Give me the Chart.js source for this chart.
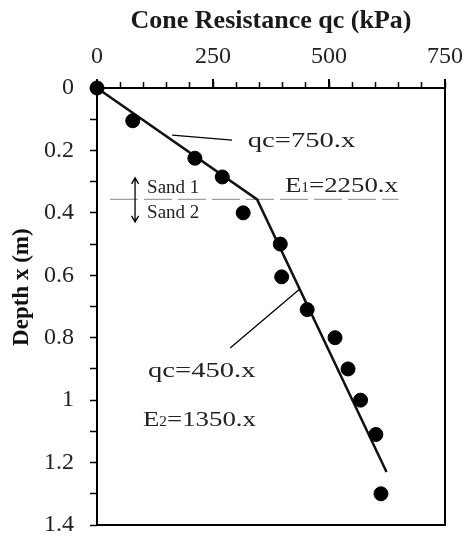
<!DOCTYPE html>
<html lang="en">
<head>
<meta charset="UTF-8">
<title>Cone Resistance</title>
<script src="https://cdn.jsdelivr.net/npm/chart.js"></script>
<style>
    body { margin: 0; background: #fff; }
    #wrap { width: 465px; height: 537px; }
</style>
</head>
<body>
<div id="wrap"><canvas id="cpt"></canvas></div>
<script>
    // measured cone resistance (kPa) at depth (m)
    var depth = [0, 0.105, 0.225, 0.285, 0.40, 0.50, 0.605, 0.71, 0.80, 0.90, 1.00, 1.11, 1.30];
    var qc = [0, 77, 211, 270, 315, 395, 398, 453, 513, 541, 568, 601, 612];
    // bilinear fit
    var fitDepth = [0, 0.357, 1.23];
    var fitQc = [0, 345, 624];
    var qcTicks = [0, 250, 500, 750];
    var depthTicks = [0, 0.2, 0.4, 0.6, 0.8, 1, 1.2, 1.4];
    var layerDepth = 0.357;

    var serif = "'Liberation Serif', 'Times New Roman', serif";

    function drawText(c, s, x, y, size, sx, weight) {
        c.save();
        c.translate(x, y);
        c.scale(sx, 1);
        c.font = (weight || 'normal') + ' ' + size + 'px ' + serif;
        c.fillText(s, 0, 0);
        var w = c.measureText(s).width * sx;
        c.restore();
        return w;
    }

    var notes = {
        id: 'notes',
        beforeDatasetsDraw(chart) {
            var c = chart.ctx, xs = chart.scales.x, ys = chart.scales.y;
            c.save();
            c.strokeStyle = '#a0a0a0';
            c.lineWidth = 1.2;
            c.setLineDash([28, 6]);
            c.beginPath();
            c.moveTo(xs.getPixelForValue(28), ys.getPixelForValue(layerDepth));
            c.lineTo(xs.getPixelForValue(650), ys.getPixelForValue(layerDepth));
            c.stroke();
            c.restore();
        },
        afterDatasetsDraw(chart) {
            var c = chart.ctx, xs = chart.scales.x, ys = chart.scales.y, a = chart.chartArea;
            var X = v => xs.getPixelForValue(v), Y = v => ys.getPixelForValue(v);
            c.save();
            c.strokeStyle = '#000';
            c.lineWidth = 2;
            c.strokeRect(a.left, a.top, a.right - a.left, a.bottom - a.top);

            // longer marks at labelled qc ticks
            c.beginPath();
            qcTicks.forEach(t => { c.moveTo(X(t), a.top); c.lineTo(X(t), a.top - 9); });
            c.stroke();

            // leader lines
            c.lineWidth = 1.3;
            c.beginPath();
            c.moveTo(X(162), Y(0.151)); c.lineTo(X(291), Y(0.167));
            c.moveTo(X(287), Y(0.833)); c.lineTo(X(437), Y(0.644));
            c.stroke();

            // double arrow between layers
            var ax = X(82), y1 = Y(0.288), y2 = Y(0.429);
            c.lineWidth = 1.3;
            c.beginPath();
            c.moveTo(ax, y1); c.lineTo(ax, y2);
            c.moveTo(ax - 3.5, y1 + 6); c.lineTo(ax, y1); c.lineTo(ax + 3.5, y1 + 6);
            c.moveTo(ax - 3.5, y2 - 6); c.lineTo(ax, y2); c.lineTo(ax + 3.5, y2 - 6);
            c.stroke();

            c.fillStyle = '#222';
            c.textBaseline = 'alphabetic';
            c.textAlign = 'left';
            drawText(c, 'Sand 1', X(108), Y(0.335), 19, 1);
            drawText(c, 'Sand 2', X(108), Y(0.4165), 19, 1);

            drawText(c, 'qc=750.x', X(325), Y(0.189), 22, 1.3);
            var x0 = X(405), yb = Y(0.333);
            x0 += drawText(c, 'E', x0, yb, 22, 1.22);
            x0 += drawText(c, '1', x0, yb, 14, 1.1);
            drawText(c, '=2250.x', x0, yb, 22, 1.22);

            drawText(c, 'qc=450.x', X(110), Y(0.926), 22, 1.3);
            x0 = X(99); yb = Y(1.083);
            x0 += drawText(c, 'E', x0, yb, 22, 1.22);
            x0 += drawText(c, '2', x0, yb, 14, 1.1);
            drawText(c, '=1350.x', x0, yb, 22, 1.22);

            // y axis title
            c.fillStyle = '#111';
            c.translate(22, Y(0.638));
            c.rotate(-Math.PI / 2);
            c.textAlign = 'center';
            c.textBaseline = 'middle';
            c.font = 'bold 23px ' + serif;
            c.fillText('Depth x (m)', 0, 0);
            c.restore();
        }
    };

    new Chart(document.getElementById('cpt'), {
        type: 'scatter',
        data: {
            datasets: [{
                label: 'measured',
                data: qc.map((v, i) => ({x: v, y: depth[i]})),
                pointRadius: 7,
                pointHoverRadius: 7,
                backgroundColor: '#000',
                borderColor: '#000',
                clip: false
            }, {
                label: 'fit',
                data: fitQc.map((v, i) => ({x: v, y: fitDepth[i]})),
                showLine: true,
                pointRadius: 0,
                borderColor: '#111',
                borderWidth: 2.5,
                clip: false
            }]
        },
        options: {
            responsive: true,
            maintainAspectRatio: false,
            animation: false,
            events: [],
            layout: { padding: 0 },
            plugins: { legend: { display: false }, tooltip: { enabled: false } },
            scales: {
                x: {
                    position: 'top',
                    min: 0,
                    max: 750,
                    afterFit: s => { s.height = 88; s.paddingLeft = 0; s.paddingRight = 20; },
                    border: { display: false },
                    grid: { drawOnChartArea: false, drawTicks: true, tickLength: 6, tickColor: '#000', tickWidth: 1.5 },
                    ticks: {
                        stepSize: 50,
                        autoSkip: false,
                        maxRotation: 0,
                        padding: 13,
                        color: '#222',
                        font: { family: serif, size: 24, lineHeight: 1 },
                        callback: v => qcTicks.includes(v) ? String(v) : ''
                    },
                    title: {
                        display: true,
                        text: 'Cone Resistance qc (kPa)',
                        color: '#1a1a1a',
                        font: { family: serif, size: 26, weight: 'bold', lineHeight: 1.2 },
                        padding: { top: 6, bottom: 0 }
                    }
                },
                y: {
                    reverse: true,
                    min: 0,
                    max: 1.4,
                    afterFit: s => { s.width = 97; s.paddingTop = 0; s.paddingBottom = 12; },
                    border: { display: false },
                    grid: { drawOnChartArea: false, drawTicks: true, tickLength: 7, tickColor: '#000', tickWidth: 1.5 },
                    ticks: {
                        stepSize: 0.1,
                        autoSkip: false,
                        padding: 16,
                        color: '#222',
                        font: { family: serif, size: 24, lineHeight: 1 },
                        callback: v => {
                            var r = Math.round(v * 10) / 10;
                            return depthTicks.some(t => Math.abs(t - r) < 1e-6) ? String(r) : '';
                        }
                    }
                }
            }
        },
        plugins: [notes]
    });
</script>
</body>
</html>
